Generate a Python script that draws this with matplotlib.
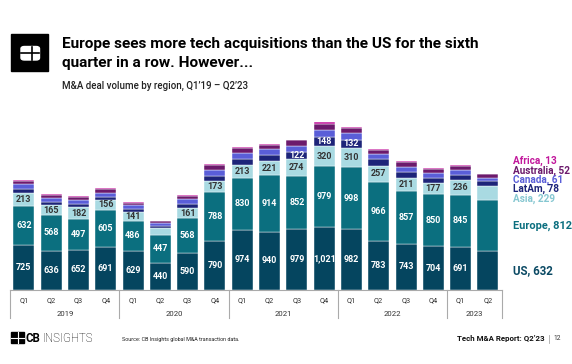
import numpy as np
import matplotlib.pyplot as plt
from matplotlib.patches import Rectangle, FancyBboxPatch

plt.rcParams['font.family'] = ['Roboto', 'DejaVu Sans']

W, H = 572, 364

quarters = ['Q1', 'Q2', 'Q3', 'Q4'] * 4 + ['Q1', 'Q2']
years = ['2019', '2020', '2021', '2022', '2023']

us = [725, 636, 652, 691, 629, 440, 590, 790, 974, 940, 979, 1021, 982, 783, 743, 704, 691, 632]
europe = [632, 568, 497, 605, 486, 447, 568, 788, 830, 914, 852, 979, 998, 966, 857, 850, 845, 812]
asia = [213, 165, 182, 156, 141, 118, 161, 173, 213, 221, 274, 320, 310, 257, 211, 177, 236, 229]
latam = [65, 50, 55, 45, 45, 30, 75, 95, 90, 105, 122, 148, 132, 105, 90, 80, 90, 78]
canada = [75, 70, 70, 60, 70, 40, 70, 95, 105, 90, 95, 120, 105, 90, 80, 70, 80, 61]
australia = [50, 40, 40, 70, 40, 30, 55, 75, 75, 75, 90, 95, 85, 65, 80, 65, 55, 52]
africa = [15, 15, 15, 15, 15, 10, 15, 15, 15, 15, 15, 20, 15, 15, 15, 15, 15, 13]

series = [
    ('US', us, '#05455f', '#0b4a64'),
    ('Europe', europe, '#0b6f7f', '#0b6f7f'),
    ('Asia', asia, '#a9dae2', '#86c7d1'),
    ('LatAm', latam, '#1d2479', '#1d2479'),
    ('Canada', canada, '#5a5ed8', '#5a5ed8'),
    ('Australia', australia, '#6c1a6c', '#6c1a6c'),
    ('Africa', africa, '#c2189c', '#c2189c'),
]


def fx(px):
    return px / W


def fy(py):
    return 1 - py / H


fig = plt.figure(figsize=(W / 100, H / 100), dpi=100)

# axes: bars from x 10.2 to 501.6 px, baseline at y=290 px, 0.062 px per deal
ymax = 3000
ax = fig.add_axes([fx(10.2), fy(290), fx(491.4), 0.062 * ymax / H])
x = np.arange(len(us))
bottom = np.zeros(len(us))
for name, vals, col, tcol in series:
    ax.bar(x, vals, width=0.77, bottom=bottom, color=col, edgecolor='white', linewidth=0.3)
    for i, v in enumerate(vals):
        mid = bottom[i] + v / 2
        show = False
        txtc = 'white'
        if name in ('US', 'Europe') and i < 17:
            show = True
        if name == 'Asia' and i not in (5, 17):
            show = True
            txtc = '#333333'
        if name == 'LatAm' and v > 120:
            show = True
        if show:
            lbl = f'{v:,}'
            ax.text(i, mid, lbl, ha='center', va='center', fontsize=6.5,
                    fontweight='bold', color=txtc)
    bottom += np.array(vals)

ax.set_xlim(-0.5, 17.5)
ax.set_ylim(0, ymax)
for s in ['top', 'right', 'left']:
    ax.spines[s].set_visible(False)
ax.spines['bottom'].set_color('#aaaaaa')
ax.spines['bottom'].set_linewidth(0.8)
ax.set_yticks([])
ax.set_xticks([])
ax.patch.set_alpha(0)

# quarter and year labels under the axis
for i, q in enumerate(quarters):
    xp = 10.2 + 27.3 * (i + 0.5)
    fig.text(fx(xp), fy(301), q, ha='center', va='center', fontsize=5.3, color='#333333')
seps = [0, 4, 8, 12, 16, 18]
for k, s in enumerate(seps):
    xp = 10.2 + 27.3 * s
    fig.add_artist(plt.Line2D([fx(xp), fx(xp)], [fy(290), fy(318)], color='#aaaaaa', lw=0.8))
for k, yr in enumerate(years):
    xp = 10.2 + 27.3 * (seps[k] + seps[k + 1]) / 2
    fig.text(fx(xp), fy(314), yr, ha='center', va='center', fontsize=5.6, color='#333333')

# right side legend labels
leg = [
    ('Africa, 13', '#c2189c', 161, 7.2),
    ('Australia, 52', '#6c1a6c', 170.7, 7.2),
    ('Canada, 61', '#5a5ed8', 180, 7.2),
    ('LatAm, 78', '#1d2479', 189.3, 7.2),
    ('Asia, 229', '#86c7d1', 199, 7.2),
    ('Europe, 812', '#0b6f7f', 226, 7.9),
    ('US, 632', '#0b4a64', 271, 8.3),
]
for t, c, yp, fs in leg:
    fig.text(fx(513), fy(yp), t, ha='left', va='center', fontsize=fs,
             fontweight='bold', color=c)

# header logo
fig.add_artist(Rectangle((fx(11), fy(71)), fx(37), 37 / H, color='black'))
fig.add_artist(FancyBboxPatch((fx(21), fy(60)), fx(18.5), 13.5 / H,
                              boxstyle='round,pad=0,rounding_size=0.006', color='white'))
fig.add_artist(plt.Line2D([fx(21), fx(39.5)], [fy(53.3), fy(53.3)], color='black', lw=1.2))
fig.add_artist(plt.Line2D([fx(31.5), fx(31.5)], [fy(46.5), fy(60)], color='black', lw=1.2))

fig.text(fx(62), fy(44), 'Europe sees more tech acquisitions than the US for the sixth',
         fontsize=11.1, fontweight='bold', va='center', ha='left', color='black')
fig.text(fx(62), fy(62.5), 'quarter in a row. However...',
         fontsize=11.1, fontweight='bold', va='center', ha='left', color='black')
fig.text(fx(62), fy(86), 'M&A deal volume by region, Q1\u201919 \u2013 Q2\u201923',
         fontsize=7.0, fontweight='medium', va='center', ha='left', color='#222222')

# footer
fig.add_artist(Rectangle((fx(11), fy(343)), fx(13), 11 / H, color='black'))
fig.add_artist(plt.Line2D([fx(11), fx(24)], [fy(337.5), fy(337.5)], color='white', lw=0.8))
fig.add_artist(plt.Line2D([fx(18), fx(18)], [fy(332), fy(343)], color='white', lw=0.8))
fig.text(fx(25), fy(338), 'CB', fontsize=8.3, fontweight='bold', va='center', ha='left')
fig.text(fx(42.5), fy(338), 'INSIGHTS', fontsize=8.3, fontweight='light', va='center', ha='left')
fig.text(fx(122), fy(340), 'Source: CB Insights global M&A transaction data.',
         fontsize=3.9, va='center', ha='left', color='#222222')
fig.text(fx(545), fy(339), 'Tech M&A Report: Q2\u201923', fontsize=5.7, fontweight='bold',
         va='center', ha='right', color='#111111')
fig.add_artist(plt.Line2D([fx(549), fx(549)], [fy(335), fy(343)], color='#aaaaaa', lw=0.6))
fig.text(fx(553), fy(339), '12', fontsize=4.8, va='center', ha='left', color='#333333')

fig.savefig('out.png', dpi=100)
